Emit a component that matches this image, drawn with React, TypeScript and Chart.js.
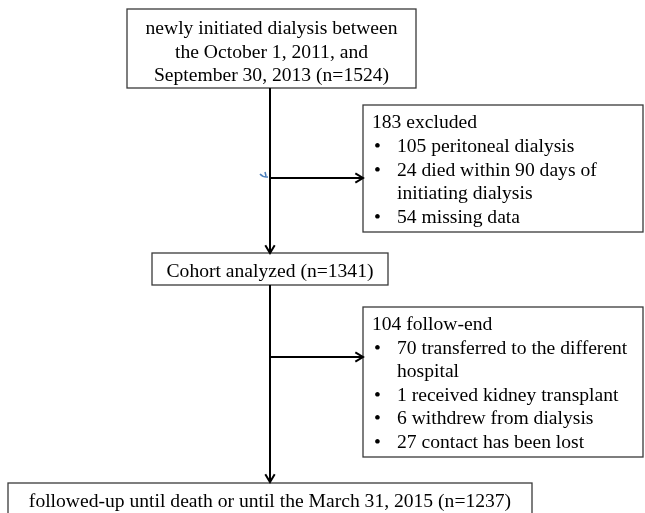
import React, { useEffect, useRef } from "react";
import { Chart, registerables } from "chart.js";

Chart.register(...registerables);

// ---- content (data) ----
const startLines = [
  "newly initiated dialysis between",
  "the October 1, 2011, and",
  "September 30, 2013 (n=1524)",
];
const excludedHeader = "183 excluded";
const excludedItems = [
  ["105 peritoneal dialysis"],
  ["24 died within 90 days of", "initiating dialysis"],
  ["54 missing data"],
];
const cohortLabel = "Cohort analyzed (n=1341)";
const followEndHeader = "104 follow-end";
const followEndItems = [
  ["70 transferred to the different", "hospital"],
  ["1 received kidney transplant"],
  ["6 withdrew from dialysis"],
  ["27 contact has been lost"],
];
const finalLabel = "followed-up until death or until the March 31, 2015 (n=1237)";

// ---- layout (positions in scale units) ----
const LAYOUT = {
  start: { x0: 127, y0: 9, x1: 416, y1: 88, baseline: 34, step: 23.7 },
  excluded: { x0: 363, y0: 105, x1: 643, y1: 232, baseline: 128, step: 23.8, textX: 372, bulletX: 374, itemX: 397 },
  cohort: { x0: 152, y0: 253, x1: 388, y1: 285, baseline: 277 },
  follow: { x0: 363, y0: 307, x1: 643, y1: 457, baseline: 330, step: 23.6, textX: 372, bulletX: 374, itemX: 397 },
  final: { x0: 8, y0: 483, x1: 532, y1: 530, baseline: 507 },
  spineX: 270,
  branch1Y: 178,
  branch2Y: 357,
};

const FONT = "19.6px 'Liberation Serif', 'Times New Roman', serif";

const flowPlugin = {
  id: "flow",
  afterDraw(chart: any) {
    const ctx: CanvasRenderingContext2D = chart.ctx;
    const sx = chart.scales.x;
    const sy = chart.scales.y;
    const px = (v: number) => sx.getPixelForValue(v);
    const py = (v: number) => sy.getPixelForValue(v);
    const L = LAYOUT;

    ctx.save();
    const rect = (b: any) => {
      ctx.strokeStyle = "#3a3a3a";
      ctx.lineWidth = 1.3;
      ctx.strokeRect(px(b.x0), py(b.y0), px(b.x1) - px(b.x0), py(b.y1) - py(b.y0));
    };
    const line = (x0: number, y0: number, x1: number, y1: number) => {
      ctx.strokeStyle = "#000";
      ctx.lineWidth = 2;
      ctx.beginPath();
      ctx.moveTo(px(x0), py(y0));
      ctx.lineTo(px(x1), py(y1));
      ctx.stroke();
    };
    const arrow = (x0: number, y0: number, x1: number, y1: number) => {
      line(x0, y0, x1, y1);
      const ang = Math.atan2(py(y1) - py(y0), px(x1) - px(x0));
      const len = 9;
      const spread = 0.55;
      ctx.beginPath();
      ctx.moveTo(px(x1) - len * Math.cos(ang - spread), py(y1) - len * Math.sin(ang - spread));
      ctx.lineTo(px(x1), py(y1));
      ctx.lineTo(px(x1) - len * Math.cos(ang + spread), py(y1) - len * Math.sin(ang + spread));
      ctx.stroke();
    };

    ctx.fillStyle = "#000";
    ctx.font = FONT;
    ctx.textBaseline = "alphabetic";

    // start box
    rect(L.start);
    ctx.textAlign = "center";
    const scx = (L.start.x0 + L.start.x1) / 2;
    startLines.forEach((t, i) => ctx.fillText(t, px(scx), py(L.start.baseline + i * L.start.step)));

    // list boxes
    const listBox = (b: any, header: string, items: string[][]) => {
      rect(b);
      ctx.fillStyle = "#000";
      ctx.textAlign = "left";
      ctx.fillText(header, px(b.textX), py(b.baseline));
      let k = 1;
      items.forEach((lines) => {
        ctx.fillText("\u2022", px(b.bulletX), py(b.baseline + k * b.step));
        lines.forEach((t) => {
          ctx.fillText(t, px(b.itemX), py(b.baseline + k * b.step));
          k++;
        });
      });
    };
    listBox(L.excluded, excludedHeader, excludedItems);

    // cohort
    rect(L.cohort);
    ctx.fillStyle = "#000";
    ctx.textAlign = "center";
    ctx.fillText(cohortLabel, px(L.spineX), py(L.cohort.baseline));

    listBox(L.follow, followEndHeader, followEndItems);

    // final
    rect(L.final);
    ctx.fillStyle = "#000";
    ctx.textAlign = "center";
    ctx.fillText(finalLabel, px((L.final.x0 + L.final.x1) / 2), py(L.final.baseline));

    // connectors
    arrow(L.spineX, L.start.y1, L.spineX, L.cohort.y0);
    arrow(L.spineX, L.branch1Y, L.excluded.x0, L.branch1Y);
    arrow(L.spineX, L.cohort.y1, L.spineX, L.final.y0 - 1);
    arrow(L.spineX, L.branch2Y, L.follow.x0, L.branch2Y);

    // small blue mark near first branch
    ctx.strokeStyle = "#4a7ebb";
    ctx.lineWidth = 1.5;
    ctx.beginPath();
    ctx.moveTo(px(260), py(174));
    ctx.quadraticCurveTo(px(263), py(177.5), px(268), py(177));
    ctx.moveTo(px(265), py(172));
    ctx.lineTo(px(266), py(176));
    ctx.stroke();

    ctx.restore();
  },
};

export default function App() {
  const ref = useRef<HTMLCanvasElement | null>(null);
  useEffect(() => {
    document.body.style.margin = "0";
    const canvas = ref.current;
    if (!canvas) return;
    const chart = new Chart(canvas, {
      type: "scatter",
      data: { datasets: [] },
      options: {
        animation: false,
        responsive: false,
        maintainAspectRatio: false,
        layout: { padding: 0 },
        plugins: { legend: { display: false }, tooltip: { enabled: false } },
        scales: {
          x: { type: "linear", min: 0, max: 645, display: false },
          y: { type: "linear", min: 0, max: 513, reverse: true, display: false },
        },
      },
      plugins: [
        {
          id: "bg",
          beforeDraw(c: any) {
            c.ctx.save();
            c.ctx.fillStyle = "#fff";
            c.ctx.fillRect(0, 0, c.width, c.height);
            c.ctx.restore();
          },
        },
        flowPlugin,
      ],
    } as any);
    return () => chart.destroy();
  }, []);
  return (
    <div style={{ width: 645, height: 513, background: "#fff" }}>
      <canvas ref={ref} width={645} height={513} style={{ display: "block", width: 645, height: 513 }} />
    </div>
  );
}
